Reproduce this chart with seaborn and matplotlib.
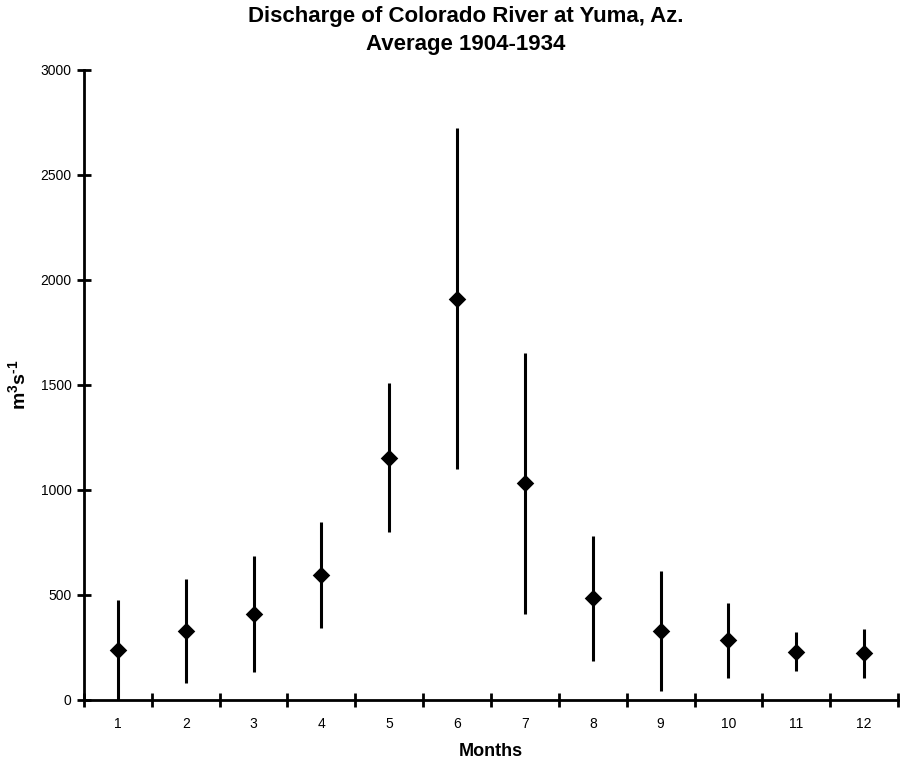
import numpy as np
import pandas as pd
import matplotlib
matplotlib.use("Agg")
import matplotlib.pyplot as plt
import seaborn as sns

months = [1, 2, 3, 4, 5, 6, 7, 8, 9, 10, 11, 12]
mean_q = [238, 330, 410, 597, 1154, 1911, 1033, 484, 330, 286, 230, 222]
low_q = [0, 82, 132, 344, 798, 1100, 410, 187, 43, 105, 138, 105]
high_q = [476, 578, 686, 846, 1508, 2724, 1654, 781, 614, 463, 324, 338]
month_labels = [str(m) for m in months]

df = pd.DataFrame({"month": months, "mean": mean_q, "low": low_q, "high": high_q})

sns.set_theme(style="ticks")
plt.rcParams['font.family'] = ['Liberation Sans', 'DejaVu Sans']
plt.rcParams['text.color'] = 'black'
plt.rcParams['axes.labelcolor'] = 'black'
plt.rcParams['xtick.color'] = 'black'
plt.rcParams['ytick.color'] = 'black'
plt.rcParams['mathtext.fontset'] = 'custom'
plt.rcParams['mathtext.rm'] = 'Liberation Sans:bold'
plt.rcParams['mathtext.bf'] = 'Liberation Sans:bold'
plt.rcParams['mathtext.it'] = 'Liberation Sans:bold'
plt.rcParams['mathtext.default'] = 'bf'

fig = plt.figure(figsize=(9.05, 7.63), dpi=100)
ax = fig.add_axes([0.0928, 0.0826, 0.8995, 0.8257])

ax.vlines(df["month"], df["low"], df["high"], color="black", linewidth=2.2, zorder=2)
sns.scatterplot(data=df, x="month", y="mean", marker="D", s=80, color="black",
                edgecolor="black", linewidth=0, ax=ax, zorder=3, legend=False)

ax.set_xlim(0.5, 12.5)
ax.set_ylim(0, 3000)
ax.set_xticks(np.arange(0.5, 13, 1))
ax.set_xticklabels([])
ax.set_xticks(months, minor=True)
ax.set_xticklabels(month_labels, minor=True)
ax.set_yticks(np.arange(0, 3001, 500))
ax.tick_params(axis="both", which="major", direction="inout", length=10, width=2,
               labelsize=10, colors="black")
ax.tick_params(axis="x", which="minor", length=0, labelsize=10, pad=12)
ax.tick_params(axis="y", which="major", pad=4)

for s in ["top", "right"]:
    ax.spines[s].set_visible(False)
for s in ["left", "bottom"]:
    ax.spines[s].set_linewidth(2)
    ax.spines[s].set_color("black")

ax.set_xlabel("Months", fontsize=13, fontweight="bold", labelpad=9)
ax.set_ylabel("m$^{3}$s$^{\\text{-}1}$", fontsize=14, fontweight="bold", labelpad=8)
fig.suptitle("Discharge of Colorado River at Yuma, Az.\nAverage 1904-1934",
             x=0.515, y=0.992, fontsize=16, fontweight="bold", linespacing=1.45)

fig.savefig("out.png", dpi=100)
